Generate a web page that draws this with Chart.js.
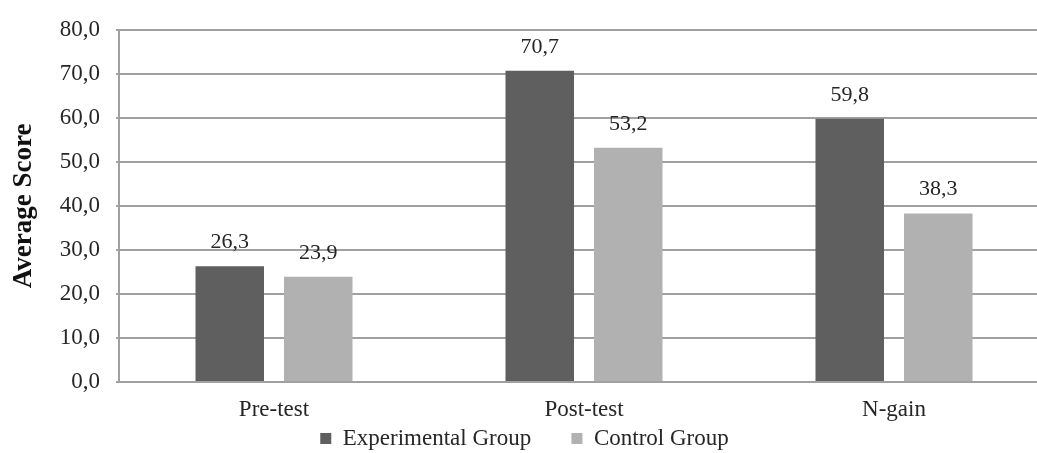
<!DOCTYPE html>
<html>
<head>
<meta charset="utf-8">
<script src="https://cdn.jsdelivr.net/npm/chart.js@4"></script>
<style>
  html, body { margin: 0; padding: 0; background: #fff; overflow: hidden; }
  #wrap { width: 1049px; height: 453px; }
</style>
</head>
<body>
<div id="wrap"><canvas id="grafico"></canvas></div>
<script>
const categorias = ['Pre-test', 'Post-test', 'N-gain'];
const experimental = [26.3, 70.7, 59.8];
const controle = [23.9, 53.2, 38.3];
const ticksY = [0, 10, 20, 30, 40, 50, 60, 70, 80];

const fonte = 'Liberation Serif, Times New Roman, serif';
const virgula = v => v.toFixed(1).replace('.', ',');

// rótulos em cima das barras
const rotulos = {
  id: 'rotulos',
  afterDatasetsDraw(chart) {
    const ctx = chart.ctx;
    ctx.save();
    ctx.font = '22px ' + fonte;
    ctx.fillStyle = '#262626';
    ctx.textAlign = 'center';
    ctx.textBaseline = 'alphabetic';
    chart.data.datasets.forEach((ds, i) => {
      chart.getDatasetMeta(i).data.forEach((bar, j) => {
        ctx.fillText(virgula(ds.data[j]), bar.x, bar.y - 18);
      });
    });
    ctx.restore();
  }
};

new Chart(document.getElementById('grafico'), {
  type: 'bar',
  data: {
    labels: categorias,
    datasets: [
      { label: 'Experimental Group', data: experimental, backgroundColor: '#5f5f5f' },
      { label: 'Control Group', data: controle, backgroundColor: '#b1b1b1' }
    ]
  },
  options: {
    responsive: true,
    maintainAspectRatio: false,
    animation: false,
    categoryPercentage: 0.571,
    barPercentage: 0.774,
    layout: { padding: { top: 13, right: 0, bottom: -7, left: 0 } },
    plugins: {
      legend: {
        position: 'bottom',
        labels: {
          color: '#262626',
          font: { family: fonte, size: 23, lineHeight: 1 },
          boxWidth: 11,
          boxHeight: 11,
          padding: 0,
          // espaço extra entre os dois itens
          generateLabels: chart => {
            const itens = Chart.defaults.plugins.legend.labels.generateLabels(chart);
            itens[0].text = itens[0].text + '       ';
            return itens;
          }
        }
      },
      tooltip: { enabled: false }
    },
    scales: {
      x: {
        afterFit: s => { s.height = 45; },
        grid: { display: false, drawTicks: false },
        border: { color: '#a0a0a0', width: 2 },
        ticks: { color: '#262626', font: { family: fonte, size: 23, lineHeight: 1 }, padding: 16 }
      },
      y: {
        min: 0,
        max: 80,
        afterFit: s => { s.width = 119; },
        afterBuildTicks: s => { s.ticks = ticksY.map(v => ({ value: v })); },
        grid: { color: '#a0a0a0', lineWidth: 2, tickLength: 3 },
        border: { color: '#a0a0a0', width: 2 },
        ticks: {
          color: '#262626',
          font: { family: fonte, size: 23 },
          padding: 16,
          callback: v => virgula(v)
        },
        title: {
          display: true,
          text: 'Average Score',
          color: '#111',
          font: { family: fonte, size: 27, weight: 'bold' },
          padding: { top: 8, bottom: 0 }
        }
      }
    }
  },
  plugins: [rotulos]
});
</script>
</body>
</html>
